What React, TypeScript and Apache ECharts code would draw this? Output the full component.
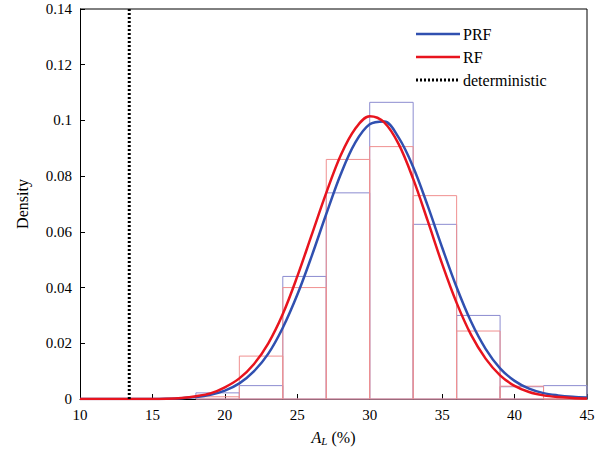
import React, { useEffect, useRef } from "react";
import * as echarts from "echarts";

const binEdges = [18, 21, 24, 27, 30, 33, 36, 39, 42, 45];
const prfHist = [0.0022, 0.0048, 0.044, 0.074, 0.1065, 0.0627, 0.030, 0.0044, 0.0048];
const rfHist = [0.0008, 0.0154, 0.040, 0.086, 0.0906, 0.073, 0.0244, 0.0046, 0.0];
const curveX = [10, 11, 12, 13, 14, 15, 16, 17, 18, 19, 20, 21, 22, 23, 24, 25, 26, 27, 28, 29, 30, 31, 32, 33, 34, 35, 36, 37, 38, 39, 40, 41, 42, 43, 44, 45];
const prfCurve = [0, 0, 0, 0, 0, 0, 0.0001, 0.0003, 0.0007, 0.0015, 0.003, 0.0056, 0.0099, 0.0163, 0.0256, 0.0374, 0.0514, 0.0664, 0.0807, 0.092, 0.0986, 0.0996, 0.0938, 0.0833, 0.0694, 0.0544, 0.0401, 0.0277, 0.018, 0.011, 0.0065, 0.0037, 0.0021, 0.0013, 0.0008, 0.0005];
const rfCurve = [0, 0, 0, 0, 0, 0, 0.0001, 0.0004, 0.001, 0.002, 0.0042, 0.0074, 0.0125, 0.02, 0.0305, 0.044, 0.059, 0.074, 0.0875, 0.097, 0.1015, 0.0993, 0.0915, 0.079, 0.064, 0.0485, 0.0345, 0.023, 0.0145, 0.0085, 0.0047, 0.0025, 0.0013, 0.0007, 0.0004, 0.0002];
const deterministicX = 13.4;
const legendNames = ["PRF", "RF", "deterministic"];

const FONT = "Liberation Serif";
const BLUE = "#3050b0";
const RED = "#e8141e";

function histSeries(vals: number[], color: string) {
  const data = vals.map((v, i) => [binEdges[i], binEdges[i + 1], v]);
  return {
    type: "custom",
    silent: true,
    z: 1,
    data,
    encode: { x: [0, 1], y: 2 },
    renderItem: (params: any, api: any) => {
      const p0 = api.coord([api.value(0), api.value(2)]);
      const p1 = api.coord([api.value(1), 0]);
      return {
        type: "rect",
        shape: { x: p0[0], y: p0[1], width: p1[0] - p0[0], height: p1[1] - p0[1] },
        style: { fill: "none", stroke: color, lineWidth: 1 },
      };
    },
  };
}

export default function App() {
  const ref = useRef<HTMLDivElement>(null);
  useEffect(() => {
    const chart = echarts.init(ref.current!, null, { renderer: "svg" });
    const legendStyles = [
      { stroke: BLUE, lineWidth: 2.5 },
      { stroke: RED, lineWidth: 2.5 },
      { stroke: "#000", lineWidth: 3, lineDash: [2, 2] },
    ];
    const legendGraphics: any[] = [];
    legendNames.forEach((n, i) => {
      const y = 34 + i * 23;
      legendGraphics.push({ type: "line", shape: { x1: 416, y1: y, x2: 460, y2: y }, style: legendStyles[i] });
      legendGraphics.push({
        type: "text",
        x: 463,
        y,
        style: { text: n, fontFamily: FONT, fontSize: 16, fill: "#000", verticalAlign: "middle" },
      });
    });
    chart.setOption({
      animation: false,
      textStyle: { fontFamily: FONT },
      grid: { left: 80, right: 23, top: 9, bottom: 62 },
      xAxis: {
        type: "value",
        min: 10,
        max: 45,
        interval: 5,
        name: "{i|A}{s|L} (%)",
        nameLocation: "middle",
        nameGap: 30,
        nameTextStyle: {
          fontFamily: FONT,
          fontSize: 16,
          color: "#000",
          rich: {
            i: { fontStyle: "italic", fontFamily: FONT, fontSize: 16 },
            s: { fontStyle: "italic", fontFamily: FONT, fontSize: 11, verticalAlign: "bottom", padding: [6, 0, 0, 0] },
          },
        },
        axisLine: { onZero: false, lineStyle: { color: "#000" } },
        axisTick: { inside: true, length: 5, lineStyle: { color: "#000" } },
        axisLabel: { fontFamily: FONT, fontSize: 15, color: "#000", margin: 8 },
        splitLine: { show: false },
      },
      yAxis: {
        type: "value",
        min: 0,
        max: 0.14,
        interval: 0.02,
        name: "Density",
        nameLocation: "middle",
        nameGap: 50,
        nameTextStyle: { fontFamily: FONT, fontSize: 16, color: "#000" },
        axisLine: { show: true, lineStyle: { color: "#000" } },
        axisTick: { inside: true, length: 5, lineStyle: { color: "#000" } },
        axisLabel: {
          fontFamily: FONT,
          fontSize: 15,
          color: "#000",
          formatter: (v: number) => (v === 0 ? "0" : String(Math.round(v * 100) / 100)),
        },
        splitLine: { show: false },
      },
      series: [
        histSeries(prfHist, "#8c8cd0"),
        histSeries(rfHist, "#f09090"),
        {
          name: "PRF",
          type: "line",
          smooth: 0.35,
          symbol: "none",
          z: 3,
          data: curveX.map((x, i) => [x, prfCurve[i]]),
          lineStyle: { color: BLUE, width: 2.5 },
        },
        {
          name: "RF",
          type: "line",
          smooth: 0.35,
          symbol: "none",
          z: 4,
          data: curveX.map((x, i) => [x, rfCurve[i]]),
          lineStyle: { color: RED, width: 2.5 },
        },
        {
          name: "deterministic",
          type: "line",
          symbol: "none",
          z: 5,
          data: [[deterministicX, 0], [deterministicX, 0.14]],
          lineStyle: { color: "#000", width: 3, type: [2, 2] },
        },
      ],
      graphic: [
        { type: "line", shape: { x1: 80, y1: 9, x2: 587, y2: 9 }, style: { stroke: "#000", lineWidth: 1 } },
        { type: "line", shape: { x1: 587, y1: 9, x2: 587, y2: 399 }, style: { stroke: "#000", lineWidth: 1 } },
        ...legendGraphics,
      ],
    });
    return () => chart.dispose();
  }, []);
  return <div ref={ref} style={{ position: "absolute", left: 0, top: 0, width: 610, height: 461 }} />;
}
